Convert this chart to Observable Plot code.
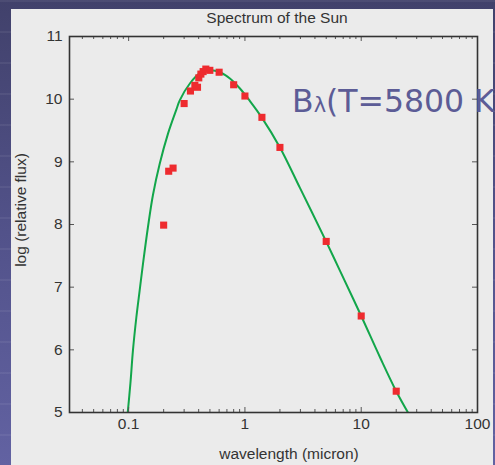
<!DOCTYPE html>
<html><head><meta charset="utf-8">
<script src="https://cdn.jsdelivr.net/npm/d3@7"></script>
<script src="https://cdn.jsdelivr.net/npm/@observablehq/plot@0.6"></script>
<style>
html,body{margin:0;padding:0;width:495px;height:465px;overflow:hidden;}
body{position:relative;
 background:
  repeating-linear-gradient(180deg, rgba(255,255,255,0.06) 0 2px, rgba(0,0,0,0) 2px 31px),
  linear-gradient(180deg,#41416b 0%,#52528a 50%,#6262a2 100%);
 font-family:"Liberation Sans",Arial,sans-serif;}
#panel{position:absolute;left:11px;top:9px;width:482px;height:456px;background:#ebebeb;}
#chart{position:absolute;left:0;top:0;}
.lbl{position:absolute;white-space:nowrap;color:#333;font-size:15.5px;line-height:15.5px;}
#title{left:266px;top:1px;transform:translateX(-50%);}
#xlab{left:278px;top:437px;transform:translateX(-50%);}
#ylab{left:9.5px;top:201px;transform:translate(-50%,-50%) rotate(-90deg);}
#anno{position:absolute;left:292px;top:86px;white-space:nowrap;color:#5c5c96;
 font-family:"DejaVu Sans",Verdana,sans-serif;font-size:31.5px;line-height:30px;}
#anno .sub{font-size:21px;}
</style></head>
<body>
<div id="panel">
 <div id="chart"></div>
 <div class="lbl" id="title">Spectrum of the Sun</div>
 <div class="lbl" id="xlab">wavelength (micron)</div>
 <div class="lbl" id="ylab">log (relative flux)</div>
</div>
<div id="anno">B<span class="sub">λ</span>(T=5800 K</div>
<script>
// Observed solar flux points (wavelength in micron, log relative flux)
const obsWavelength = [0.20,0.221,0.241,0.30,0.34,0.371,0.391,0.401,0.418,0.437,0.461,0.499,0.60,0.80,1.0,1.40,2.0,5.0,10,20];
const obsLogFlux    = [7.99,8.85,8.90,9.93,10.13,10.22,10.19,10.34,10.40,10.44,10.48,10.46,10.43,10.23,10.05,9.71,9.23,7.73,6.54,5.34];

// Blackbody curve
const curveWavelength = [0.098,0.1035,0.1089,0.1165,0.1244,0.1328,0.1466,0.1618,0.185,0.218,0.258,0.275,0.336,0.409,0.499,0.609,0.743,0.906,1.104,1.393,2.0,2.98,4.99,6.59,10,14.6,20,25.6];
const curveLogFlux    = [4.98,5.46,5.99,6.52,6.95,7.37,7.96,8.47,8.97,9.45,9.84,9.98,10.25,10.41,10.46,10.43,10.33,10.17,9.97,9.71,9.23,8.58,7.73,7.255,6.54,5.87,5.34,4.98];

// Ticks
const xMajorTicks = [0.1,1,10,100];
const xTickLabels = ["0.1","1","10","100"];
const xMinorTicks = [0.04,0.05,0.06,0.07,0.08,0.09,0.2,0.3,0.4,0.5,0.6,0.7,0.8,0.9,2,3,4,5,6,7,8,9,20,30,40,50,60,70,80,90];
const yTicks = [5,6,7,8,9,10,11];
const xDomain = [0.031,100];
const yDomain = [5,11];

const W = 482, H = 456, mT = 27, mB = 53, mL = 58, mR = 16;
const pw = W - mL - mR, ph = H - mT - mB;
const tickColor = "#555";
const fmtX = d => xTickLabels[xMajorTicks.indexOf(d)];

const chart = Plot.plot({
  width: W, height: H,
  marginTop: mT, marginBottom: mB, marginLeft: mL, marginRight: mR,
  style: {background: "transparent", color: "#333", fontFamily: "'Liberation Sans', Arial, sans-serif", overflow: "visible"},
  x: {type: "log", domain: xDomain},
  y: {domain: yDomain},
  marks: [
    Plot.line(curveWavelength, {x: curveWavelength, y: curveLogFlux, stroke: "#12a64a", strokeWidth: 2, curve: "catmull-rom", clip: true}),
    Plot.dot(obsWavelength, {x: obsWavelength, y: obsLogFlux, symbol: "square", r: 4, fill: "#ee2b2f", stroke: "none"}),
    // inward ticks
    Plot.tickX(xMajorTicks, {x: d => d, stroke: tickColor, insetTop: ph - 5}),
    Plot.tickX(xMajorTicks, {x: d => d, stroke: tickColor, insetBottom: ph - 5}),
    Plot.tickX(xMinorTicks, {x: d => d, stroke: tickColor, insetTop: ph - 3}),
    Plot.tickX(xMinorTicks, {x: d => d, stroke: tickColor, insetBottom: ph - 3}),
    Plot.tickY(yTicks, {y: d => d, stroke: tickColor, insetRight: pw - 5}),
    Plot.tickY(yTicks, {y: d => d, stroke: tickColor, insetLeft: pw - 5}),
    Plot.axisX(xMajorTicks, {tickSize: 0, tickPadding: 5, tickFormat: fmtX, label: null, fontSize: 15.5}),
    Plot.axisY(yTicks, {tickSize: 0, tickPadding: 7, tickFormat: d => String(d), label: null, fontSize: 15.5}),
    Plot.frame({stroke: "#333", strokeWidth: 1.6})
  ]
});
document.getElementById("chart").appendChild(chart);
</script>
</body></html>
